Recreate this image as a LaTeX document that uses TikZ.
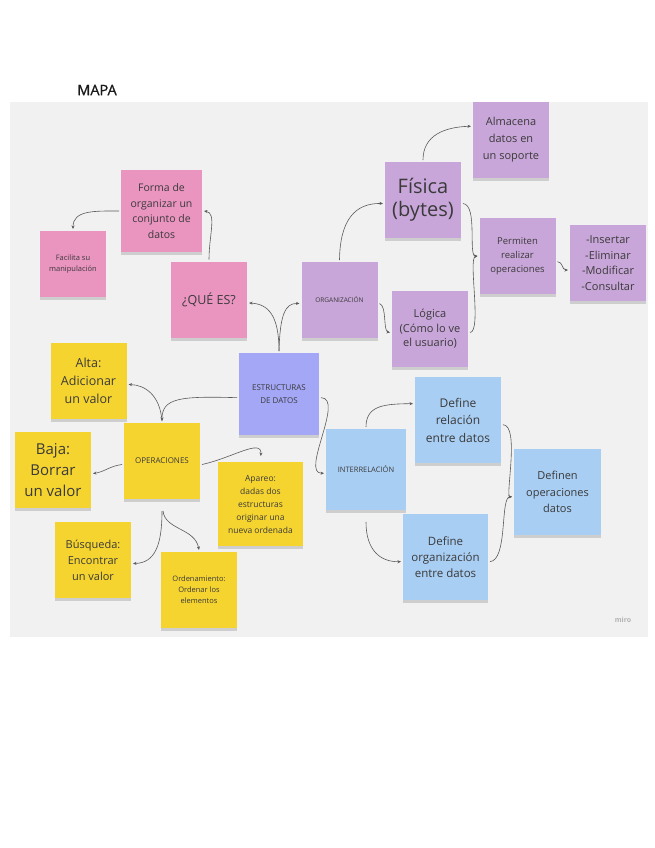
\documentclass[tikz,border=0pt]{standalone}
\usepackage{fontspec}
\setmainfont{Open Sans}
\newfontfamily\titulofont[FakeBold=0.9]{Open Sans}
\usepackage{xcolor}
\usetikzlibrary{arrows.meta, shadows}

\definecolor{rosa}{HTML}{EA94C0}
\definecolor{lila}{HTML}{C9A6D9}
\definecolor{violeta}{HTML}{A3A7F6}
\definecolor{celeste}{HTML}{A9CEF3}
\definecolor{amarillo}{HTML}{F6D430}
\definecolor{fondo}{HTML}{F1F1F1}
\definecolor{texto}{HTML}{3A3A3A}
\definecolor{linea}{HTML}{5A5A5A}

\begin{document}
\begin{tikzpicture}[x=1pt, y=-1pt,
    nota/.style={rectangle, fill=#1, text=texto, align=center, minimum width=76pt, minimum height=76pt, inner sep=2pt, outer sep=2pt,
        drop shadow={shadow xshift=0pt, shadow yshift=-3pt, opacity=0.3}},
    flecha/.style={-{Stealth[length=3.5pt, width=3pt]}, draw=linea, line width=0.6pt}]

    \useasboundingbox[fill=white] (0,0) rectangle (655,848);
    \fill[fondo] (10,102) rectangle (648,637);
    \node[font=\titulofont\fontsize{14.5}{16}\selectfont, text=black!90] (titulo) at (97,90) {MAPA};
    \node[font=\fontsize{7}{8}\selectfont\bfseries, text=black!30] (marca) at (623,620) {miro};

    % rosa
    \node[nota=rosa, minimum width=81pt, minimum height=82pt, font=\fontsize{10.5}{15.5}\selectfont] (forma) at (161.5,211) {Forma de\\organizar un\\conjunto de\\datos};
    \node[nota=rosa, minimum width=66pt, minimum height=66pt, font=\fontsize{7.5}{10.5}\selectfont] (facilita) at (73,264) {Facilita su\\manipulación};
    \node[nota=rosa, font=\fontsize{12.5}{14}\selectfont] (quees) at (209,299.5) {¿QUÉ ES?};

    % lila
    \node[nota=lila, font=\fontsize{6.5}{8}\selectfont] (organizacion) at (339.5,300) {ORGANIZACIÓN};
    \node[nota=lila, font=\fontsize{20}{23}\selectfont] (fisica) at (423,200) {Física\\(bytes)};
    \node[nota=lila, font=\fontsize{11}{17}\selectfont] (almacena) at (511,140) {Almacena\\datos en\\un soporte};
    \node[nota=lila, font=\fontsize{9.5}{14}\selectfont] (permiten) at (517.5,256) {Permiten\\realizar\\operaciones};
    \node[nota=lila, font=\fontsize{11}{15.5}\selectfont] (insertar) at (608,263) {-Insertar\\-Eliminar\\-Modificar\\-Consultar};
    \node[nota=lila, font=\fontsize{11}{14.5}\selectfont] (logica) at (430,329) {Lógica\\(Cómo lo ve\\el usuario)};

    % centro
    \node[nota=violeta, minimum width=80pt, minimum height=82pt, font=\fontsize{8}{13}\selectfont] (estructuras) at (279,394) {ESTRUCTURAS\\DE DATOS};

    % amarillo
    \node[nota=amarillo, font=\fontsize{12.5}{18}\selectfont] (alta) at (88.5,381) {Alta:\\Adicionar\\un valor};
    \node[nota=amarillo, font=\fontsize{8}{10}\selectfont] (operaciones) at (162,461) {OPERACIONES};
    \node[nota=amarillo, font=\fontsize{15}{21}\selectfont] (baja) at (53,470) {Baja:\\Borrar\\un valor};
    \node[nota=amarillo, minimum width=85pt, minimum height=84pt, font=\fontsize{8.5}{13}\selectfont] (apareo) at (260.5,504) {Apareo:\\dadas dos\\estructuras\\originar una\\nueva ordenada};
    \node[nota=amarillo, font=\fontsize{11}{16}\selectfont] (busqueda) at (93,560) {Búsqueda:\\Encontrar\\un valor};
    \node[nota=amarillo, font=\fontsize{7.5}{11}\selectfont] (ordenamiento) at (199,590) {Ordenamiento:\\Ordenar los\\elementos};

    % celeste
    \node[nota=celeste, minimum width=80pt, minimum height=81pt, font=\fontsize{7.5}{9}\selectfont] (interrelacion) at (366,469.5) {INTERRELACIÓN};
    \node[nota=celeste, minimum width=86pt, minimum height=86pt, font=\fontsize{12}{17.5}\selectfont] (relacion) at (458,420) {Define\\relación\\entre datos};
    \node[nota=celeste, minimum width=85pt, minimum height=86pt, font=\fontsize{11.5}{16}\selectfont] (orgdatos) at (445.5,557) {Define\\organización\\entre datos};
    \node[nota=celeste, minimum width=87pt, minimum height=86pt, font=\fontsize{11}{16.5}\selectfont] (definen) at (557.5,492) {Definen\\operaciones\\datos};

    % conectores
    \draw[flecha] (quees.north) .. controls (209,235) and (217,213) .. (forma.east);
    \draw[flecha] (forma.west) .. controls (95,211) and (73,210) .. (facilita.north);
    \draw[flecha] (estructuras.north) .. controls (279,315) and (268,304) .. (quees.-5);
    \draw[flecha] (estructuras.north) .. controls (280,315) and (285,303) .. (organizacion.185);
    \draw[flecha] (organizacion.north) .. controls (340,220) and (355,203) .. (fisica.185);
    \draw[flecha] (organizacion.-5) .. controls (387,306) and (383,331) .. (logica.185);
    \draw[flecha] (fisica.north) .. controls (423,135) and (445,127) .. (almacena.161);
    \draw[flecha] (fisica.-5) .. controls (478,205) and (468,256) .. (permiten.west);
    \draw[flecha] (logica.-5) .. controls (482,332) and (468,258) .. (permiten.west);
    \draw[flecha] (permiten.-8) .. controls (563,262) and (562,270) .. (insertar.190);
    \draw[flecha] (estructuras.185) .. controls (180,396) and (162,398) .. (operaciones.north);
    \draw[flecha] (operaciones.north) .. controls (160,395) and (145,385) .. (alta.-5);
    \draw[flecha] (operaciones.185) .. controls (110,466) and (104,472) .. (baja.-5);
    \draw[flecha, shorten >=4pt] (operaciones.-5) .. controls (232,458) and (262,438) .. (apareo.north);
    \draw[flecha, shorten <=10pt] (operaciones.south) .. controls (162,545) and (155,563) .. (busqueda.-5);
    \draw[flecha, shorten <=10pt] (operaciones.south) .. controls (165,530) and (195,528) .. (ordenamiento.north);
    \draw[flecha] (estructuras.-5) .. controls (345,398) and (300,474) .. (interrelacion.185);
    \draw[flecha] (interrelacion.north) .. controls (366,405) and (385,404) .. (relacion.160);
    \draw[flecha, shorten <=10pt] (interrelacion.south) .. controls (366,550) and (380,562) .. (orgdatos.186);
    \draw[flecha] (relacion.-6) .. controls (520,425) and (505,497) .. (definen.186);
    \draw[flecha] (orgdatos.-6) .. controls (508,560) and (500,497) .. (definen.186);
\end{tikzpicture}
\end{document}
